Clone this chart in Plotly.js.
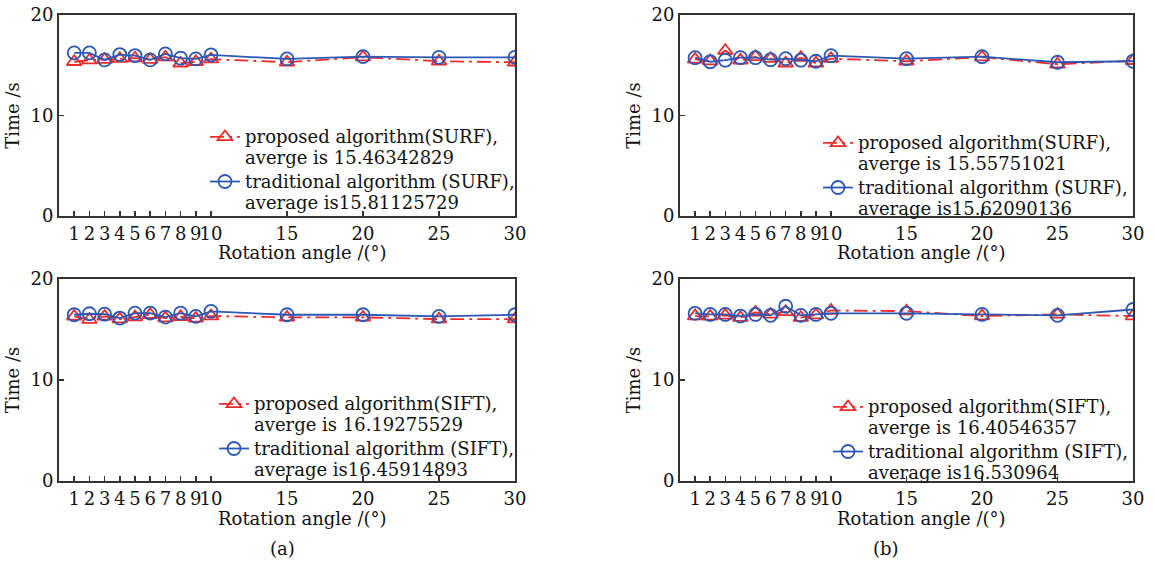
<!DOCTYPE html>
<html>
<head>
<meta charset="utf-8">
<script src="https://cdn.plot.ly/plotly-3.0.1.min.js"></script>
<style>
html,body{margin:0;padding:0;background:#fff;}
#chart{width:1155px;height:562px;}
</style>
</head>
<body>
<div id="chart"></div>
<script>
// ---- data ----
const angles = [1,2,3,4,5,6,7,8,9,10,15,20,25,30];
const angleTickLabels = ['1','2','3','4','5','6','7','8','9','10','15','20','25','30'];
const yTickVals = [0,10,20];

// (a) SURF
const aSurfProposed    = [15.35,15.5,15.55,15.65,15.7,15.55,15.8,15.2,15.35,15.6,15.3,15.8,15.4,15.3];
const aSurfTraditional = [16.23,16.23,15.53,16.06,15.96,15.53,16.13,15.7,15.63,16.03,15.63,15.86,15.79,15.79];
// (b) SURF
const bSurfProposed    = [15.58,15.42,16.45,15.49,15.84,15.65,15.2,15.75,15.2,15.65,15.4,15.8,15.1,15.45];
const bSurfTraditional = [15.75,15.35,15.5,15.75,15.75,15.55,15.65,15.5,15.4,15.95,15.65,15.85,15.3,15.4];
// (a) SIFT
const aSiftProposed    = [16.3,15.97,16.3,16.03,16.23,16.46,16.13,16.26,16.1,16.33,16.2,16.2,16.03,16.03];
const aSiftTraditional = [16.46,16.56,16.52,16.13,16.62,16.62,16.23,16.62,16.3,16.79,16.46,16.46,16.3,16.46];
// (b) SIFT
const bSiftProposed    = [16.33,16.3,16.4,16.17,16.69,16.5,16.75,16.17,16.43,16.88,16.82,16.33,16.49,16.33];
const bSiftTraditional = [16.6,16.49,16.49,16.33,16.49,16.4,17.3,16.4,16.49,16.6,16.6,16.49,16.4,16.98];

const legendNames = {
  aSurf: ['proposed algorithm(SURF),<br>averge is 15.46342829', 'traditional algorithm (SURF),<br>average is15.81125729'],
  bSurf: ['proposed algorithm(SURF),<br>averge is 15.55751021', 'traditional algorithm (SURF),<br>average is15.62090136'],
  aSift: ['proposed algorithm(SIFT),<br>averge is 16.19275529', 'traditional algorithm (SIFT),<br>average is16.45914893'],
  bSift: ['proposed algorithm(SIFT),<br>averge is 16.40546357', 'traditional algorithm (SIFT),<br>average is16.530964']
};
const xTitle = 'Rotation angle /(°)';
const yTitle = 'Time /s';
const panelLabels = ['(a)','(b)'];

// ---- style ----
const W = 1155, H = 562;
const RED = '#ee2b2b', BLUE = '#2c58b4';
const FONT = 'DejaVu Serif, serif';
const AX = '#333333';

function wrap(t){ return t.split('<br>').map(s => '<span style="font-size:18px">' + s + '</span>').join('<br>'); }
function px2x(a,b){ return [a/W, b/W]; }
function px2y(top,bot){ return [1 - bot/H, 1 - top/H]; }

const panels = [
  {id:'', prop:aSurfProposed, trad:aSurfTraditional, names:legendNames.aSurf, leg:'legend',  xd:px2x(59,515),  yd:px2y(15,216),  lx:205, ly:120, tx:302, ty:252},
  {id:'2',prop:bSurfProposed, trad:bSurfTraditional, names:legendNames.bSurf, leg:'legend2', xd:px2x(680,1133), yd:px2y(15,216),  lx:818, ly:126, tx:921, ty:252},
  {id:'3',prop:aSiftProposed, trad:aSiftTraditional, names:legendNames.aSift, leg:'legend3', xd:px2x(59,515),  yd:px2y(279,481), lx:214, ly:387, tx:302, ty:518},
  {id:'4',prop:bSiftProposed, trad:bSiftTraditional, names:legendNames.bSift, leg:'legend4', xd:px2x(680,1133), yd:px2y(279,481), lx:828, ly:390, tx:921, ty:518}
];

const traces = [];
const layout = {
  width: W, height: H,
  margin: {l:0, r:0, t:0, b:0},
  paper_bgcolor: '#ffffff', plot_bgcolor: '#ffffff',
  font: {family: FONT, size: 18, color: '#111'},
  showlegend: true,
  annotations: []
};

panels.forEach(p => {
  const xa = 'x' + p.id, ya = 'y' + p.id;
  traces.push({
    type:'scatter', mode:'lines+markers', x: angles, y: p.prop, xaxis: xa, yaxis: ya,
    name: wrap(p.names[0]), legend: p.leg,
    line: {color: RED, width: 1.8, dash: '14px,5px,3px,5px'},
    marker: {symbol: 'triangle-up-open', size: 13, color: RED, line: {width: 1.8, color: RED}}
  });
  traces.push({
    type:'scatter', mode:'lines+markers', x: angles, y: p.trad, xaxis: xa, yaxis: ya,
    name: wrap(p.names[1]), legend: p.leg,
    line: {color: BLUE, width: 1.8},
    marker: {symbol: 'circle-open', size: 13, color: BLUE, line: {width: 1.8, color: BLUE}}
  });
  layout['xaxis' + p.id] = {
    domain: p.xd, anchor: ya, range: [0, 30],
    tickmode: 'array', tickvals: angles, ticktext: angleTickLabels, tickangle: 0,
    ticks: 'inside', ticklen: 5, tickwidth: 1.5, tickcolor: AX,
    showline: true, linecolor: AX, linewidth: 2, mirror: true,
    showgrid: false, zeroline: false, automargin: false,
    tickfont: {family: FONT, size: 18, color: '#111'}
  };
  layout['yaxis' + p.id] = {
    domain: p.yd, anchor: xa, range: [0, 20],
    tickmode: 'array', tickvals: yTickVals,
    ticks: 'inside', ticklen: 5, tickwidth: 1.5, tickcolor: AX,
    showline: true, linecolor: AX, linewidth: 2, mirror: true,
    showgrid: false, zeroline: false, automargin: false,
    tickfont: {family: FONT, size: 18, color: '#111'},
    title: {text: yTitle, font: {family: FONT, size: 18, color: '#111'}, standoff: 6}
  };
  layout[p.leg] = {
    x: p.lx / W, y: 1 - p.ly / H, xanchor: 'left', yanchor: 'top',
    bgcolor: 'rgba(0,0,0,0)', borderwidth: 0, valign: 'top',
    tracegroupgap: 0, itemwidth: 30,
    font: {family: FONT, size: 16, color: '#111'}
  };
  layout.annotations.push({
    text: xTitle, x: p.tx / W, y: 1 - p.ty / H, xref: 'paper', yref: 'paper',
    showarrow: false, xanchor: 'center', yanchor: 'middle',
    font: {family: FONT, size: 18, color: '#111'}
  });
});

layout.annotations.push(
  {text: panelLabels[0], x: 282/W, y: 1 - 548/H, xref:'paper', yref:'paper', showarrow:false, xanchor:'center', yanchor:'middle', font:{family: FONT, size: 18, color:'#111'}},
  {text: panelLabels[1], x: 886/W, y: 1 - 548/H, xref:'paper', yref:'paper', showarrow:false, xanchor:'center', yanchor:'middle', font:{family: FONT, size: 18, color:'#111'}}
);

Plotly.newPlot('chart', traces, layout, {staticPlot: true, displayModeBar: false});
</script>
</body>
</html>
